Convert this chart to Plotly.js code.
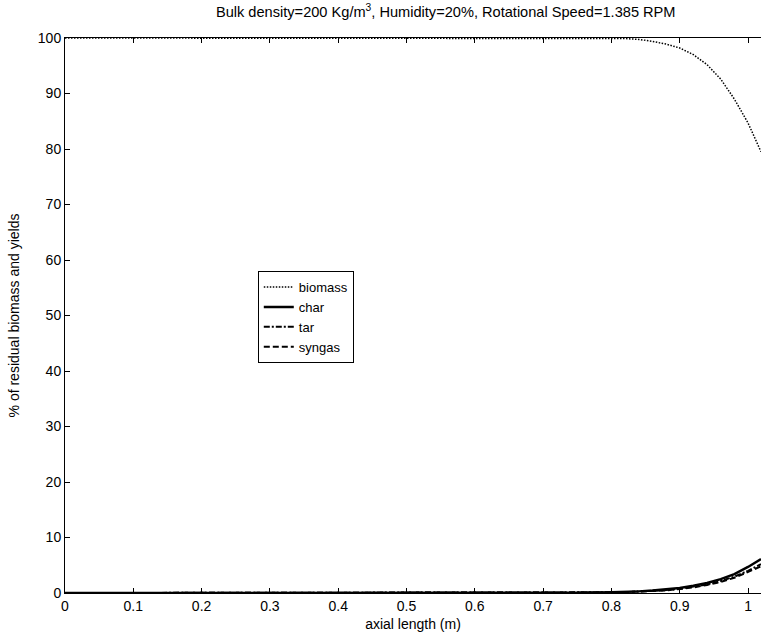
<!DOCTYPE html>
<html>
<head>
<meta charset="utf-8">
<script src="https://cdn.plot.ly/plotly-3.0.1.min.js"></script>
<style>html,body{margin:0;padding:0;background:#fff;}#chart{width:761px;height:634px;}</style>
</head>
<body>
<div id="chart"></div>
<script>
const axialLength = [0, 0.1, 0.2, 0.3, 0.4, 0.5, 0.6, 0.7, 0.75, 0.8, 0.82, 0.84, 0.86, 0.88, 0.9, 0.92, 0.94, 0.96, 0.98, 1.0, 1.019];
const biomass = [100, 100, 100, 100, 100, 100, 100, 100, 100, 99.95, 99.9, 99.75, 99.4, 98.9, 98.2, 97.0, 95.2, 92.6, 89.0, 84.7, 79.5];
const charYield = [0, 0, 0, 0, 0, 0, 0, 0.02, 0.05, 0.15, 0.2, 0.3, 0.45, 0.62, 0.9, 1.3, 1.8, 2.5, 3.4, 4.7, 6.1];
const tarYield = [0, 0, 0, 0, 0, 0, 0, 0.02, 0.04, 0.12, 0.17, 0.25, 0.38, 0.52, 0.78, 1.1, 1.55, 2.15, 2.95, 4.0, 5.2];
const syngasYield = [0, 0, 0, 0, 0, 0, 0, 0.02, 0.04, 0.11, 0.16, 0.23, 0.35, 0.48, 0.72, 1.0, 1.45, 2.0, 2.75, 3.75, 4.8];
const xTicks = [0, 0.1, 0.2, 0.3, 0.4, 0.5, 0.6, 0.7, 0.8, 0.9, 1];
const yTicks = [0, 10, 20, 30, 40, 50, 60, 70, 80, 90, 100];

const traces = [
  {x: axialLength, y: biomass, name: 'biomass', mode: 'lines', line: {color: '#000', width: 1.5, dash: '1.5px,1.5px'}},
  {x: axialLength, y: charYield, name: 'char', mode: 'lines', line: {color: '#000', width: 2.4, dash: 'solid'}},
  {x: axialLength, y: tarYield, name: 'tar', mode: 'lines', line: {color: '#000', width: 2, dash: '6px,2px,2px,2px'}},
  {x: axialLength, y: syngasYield, name: 'syngas', mode: 'lines', line: {color: '#000', width: 2, dash: '6px,3px'}}
];

const fontFam = 'Liberation Sans, Arial, sans-serif';
const layout = {
  width: 761, height: 634,
  margin: {l: 65, r: 0, t: 38, b: 41, pad: 0},
  paper_bgcolor: '#fff', plot_bgcolor: '#fff',
  font: {family: fontFam, size: 14, color: '#000'},
  title: {text: 'Bulk density=200 Kg/m<sup>3</sup>, Humidity=20%, Rotational Speed=1.385 RPM', font: {family: fontFam, size: 14.6, color: '#000'}, x: 0.547, xref: 'paper', xanchor: 'center', y: 1, yref: 'container', yanchor: 'top', pad: {t: 7}},
  xaxis: {
    range: [0, 1.019], tickvals: xTicks, ticktext: xTicks.map(String),
    ticks: 'inside', ticklen: 5, tickcolor: '#000', tickwidth: 1,
    showline: true, linecolor: '#000', linewidth: 1, mirror: 'ticks',
    showgrid: false, zeroline: false,
    title: {text: 'axial length (m)', font: {family: fontFam, size: 14, color: '#000'}, standoff: 6},
    tickfont: {family: fontFam, size: 14, color: '#000'}
  },
  yaxis: {
    range: [0, 100], tickvals: yTicks, ticktext: yTicks.map(String),
    ticks: 'inside', ticklen: 5, tickcolor: '#000', tickwidth: 1,
    showline: true, linecolor: '#000', linewidth: 1, mirror: false,
    showgrid: false, zeroline: false,
    title: {text: '% of residual biomass and yields', font: {family: fontFam, size: 14, color: '#000'}, standoff: 14},
    tickfont: {family: fontFam, size: 14, color: '#000'}
  },
  showlegend: true,
  legend: {x: 0.277, y: 0.58, xanchor: 'left', yanchor: 'top', bgcolor: '#fff', bordercolor: '#000', borderwidth: 1,
    font: {family: fontFam, size: 13, color: '#000'}, tracegroupgap: 0, itemwidth: 30}
};

Plotly.newPlot('chart', traces, layout, {displayModeBar: false, staticPlot: true});
</script>
</body>
</html>
